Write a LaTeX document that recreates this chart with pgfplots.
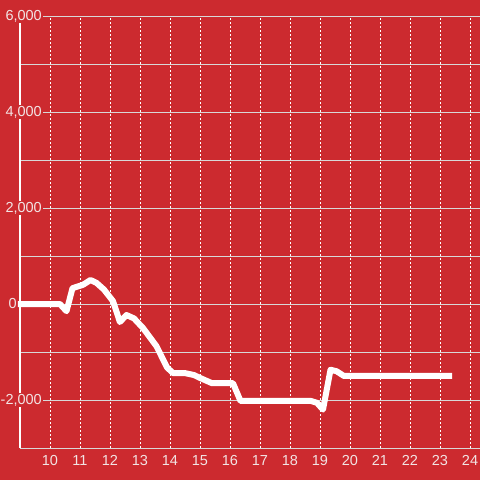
\documentclass[border=0pt]{standalone}
\usepackage{pgfplots}
\pgfplotsset{compat=1.18}
\usepackage{fontspec}
\setmainfont{Liberation Sans}
\definecolor{bgred}{HTML}{CC2A2F}
\definecolor{gridgray}{HTML}{D8D8D8}
\definecolor{lbl}{HTML}{F2E4E4}
\begin{document}
\begin{tikzpicture}
\fill[bgred] (-20pt,-32pt) rectangle (460pt,448pt);
\useasboundingbox (-20pt,-32pt) rectangle (460pt,448pt);
\begin{axis}[
  at={(0,0)}, anchor=south west,
  scale only axis, width=460pt, height=432pt,
  xmin=9, xmax=24.3333, ymin=-3000, ymax=6000,
  clip=false,
  axis lines*=left,
  axis line style={-},
  x axis line style={draw=gridgray, line width=0.8pt},
  y axis line style={draw=white, line width=2.6pt},
  xtick={10,...,24},
  ytick={-2000,2000,4000,6000},
  extra y ticks={0},
  extra y tick style={grid style={draw=white, line width=2.6pt, dash pattern=},
     yticklabel style={fill=none, xshift=-25pt}},
  minor ytick={-1000,1000,3000,5000},
  grid=both,
  xmajorgrids=true,
  major x grid style={draw=white, line width=0.8pt, dash pattern=on 2pt off 2pt},
  major y grid style={draw=gridgray, line width=0.8pt},
  minor y grid style={draw=gridgray, line width=0.8pt},
  major tick length=0pt, minor tick length=0pt,
  tick style={draw=none},
  ticklabel style={font=\fontsize{14.5}{17}\selectfont, text=lbl},
  /pgf/number format/assume math mode=true,
  /pgf/number format/1000 sep={,},
  scaled y ticks=false,
  yticklabel style={anchor=east, xshift=23pt, fill=bgred, inner sep=1pt},
  xticklabel style={yshift=-4pt},
]
\addplot[white, line width=6pt, line join=round] coordinates {
(8.93,0) (10.33,0) (10.55,-150) (10.75,330) (11.1,400) (11.35,500) (11.55,440)
(11.8,300) (12.1,60) (12.33,-375) (12.55,-230) (12.8,-300) (13.1,-500)
(13.55,-880) (13.9,-1320) (14.1,-1440) (14.5,-1440) (14.8,-1480) (15.0,-1540)
(15.4,-1650) (16.1,-1650) (16.35,-2020) (18.7,-2020) (18.9,-2060) (19.1,-2200)
(19.35,-1370) (19.55,-1400) (19.8,-1500) (23.4,-1500)
};
\end{axis}
\end{tikzpicture}
\end{document}
